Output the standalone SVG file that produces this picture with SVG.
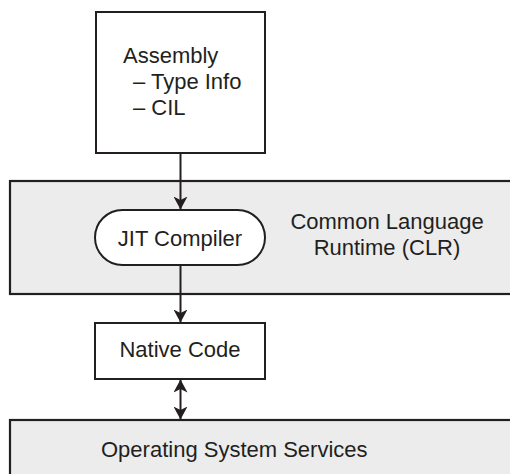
<svg xmlns="http://www.w3.org/2000/svg" width="510" height="474" viewBox="0 0 510 474">
  <style>
    .box { fill: #ffffff; stroke: #231f20; stroke-width: 2; }
    .band { fill: #ececec; stroke: #231f20; stroke-width: 2.2; }
    .lbl { font-family: "Liberation Sans", Arial, sans-serif; font-size: 22px; fill: #231f20; }
    .mid { text-anchor: middle; }
    .wire { stroke: #231f20; stroke-width: 2; fill: none; }
  </style>
  <defs>
    <!-- arrowhead drawn along +x so orient="auto" follows the line -->
    <marker id="head" viewBox="0 0 13 14" refX="12.5" refY="7" markerWidth="13" markerHeight="14" markerUnits="userSpaceOnUse" orient="auto-start-reverse">
      <path d="M0,0 L13,7 L0,14 L3.5,7 Z" fill="#231f20"/>
    </marker>
  </defs>

  <rect width="510" height="474" fill="#ffffff"/>

  <!-- CLR band -->
  <g id="clr">
    <rect class="band" x="10" y="181" width="520" height="113"/>
    <text class="lbl mid" x="387" y="229">Common Language</text>
    <text class="lbl mid" x="387" y="255">Runtime (CLR)</text>
  </g>

  <!-- OS band -->
  <g id="os">
    <rect class="band" x="10" y="420" width="520" height="70"/>
    <text class="lbl" x="101" y="457">Operating System Services</text>
  </g>

  <!-- connectors -->
  <g id="connectors">
    <line class="wire" x1="180.5" y1="153" x2="180.5" y2="209" marker-end="url(#head)"/>
    <line class="wire" x1="180.5" y1="265" x2="180.5" y2="322" marker-end="url(#head)"/>
    <line class="wire" x1="180.5" y1="380" x2="180.5" y2="419" marker-start="url(#head)" marker-end="url(#head)"/>
  </g>

  <!-- Assembly -->
  <g id="assembly">
    <rect class="box" x="96" y="12" width="169" height="141"/>
    <text class="lbl" x="123" y="63">Assembly</text>
    <text class="lbl" x="133" y="89">– Type Info</text>
    <text class="lbl" x="133" y="115">– CIL</text>
  </g>

  <!-- JIT Compiler -->
  <g id="jit">
    <rect class="box" x="95" y="210" width="170" height="55" rx="27.5" ry="27.5"/>
    <text class="lbl mid" x="180" y="246">JIT Compiler</text>
  </g>

  <!-- Native Code -->
  <g id="native">
    <rect class="box" x="95" y="323" width="170" height="56"/>
    <text class="lbl mid" x="180" y="357">Native Code</text>
  </g>
</svg>
